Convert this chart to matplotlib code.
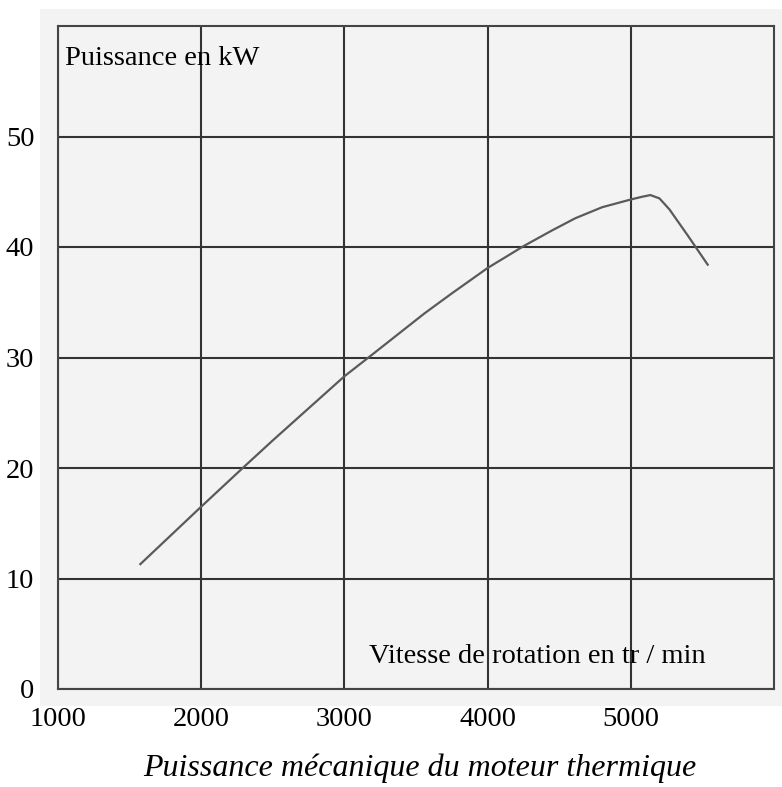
import matplotlib.pyplot as plt
from matplotlib.patches import Rectangle

# courbe de puissance
vitesse = [1575, 2000, 2290, 2500, 2750, 3000, 3188, 3560, 3750, 4000,
           4254, 4450, 4612, 4800, 5000, 5080, 5137, 5200, 5270, 5400, 5537]
puissance = [11.3, 16.5, 20.0, 22.5, 25.4, 28.3, 30.2, 34.0, 35.8, 38.1,
             40.1, 41.5, 42.6, 43.6, 44.3, 44.55, 44.7, 44.4, 43.4, 41.0, 38.4]

x_ticks = [1000, 2000, 3000, 4000, 5000]
y_ticks = [0, 10, 20, 30, 40, 50]

plt.rcParams['font.family'] = ['Liberation Serif', 'DejaVu Serif']

fig = plt.figure(figsize=(7.82, 7.87), dpi=100)
fig.patch.set_facecolor('white')

# fond gris clair derriere le graphique
fig.patches.append(Rectangle((40 / 782, 1 - 706 / 787), (782 - 40) / 782, (706 - 9) / 787,
                             transform=fig.transFigure, facecolor='#f3f3f3',
                             edgecolor='none', zorder=-10))

ax = fig.add_axes([58 / 782, 1 - 689 / 787, (774 - 58) / 782, (689 - 26) / 787])
ax.set_facecolor('#f3f3f3')
ax.set_zorder(1)

ax.plot(vitesse, puissance, color='#5a5a5a', lw=1.6, zorder=3)

ax.set_xlim(1000, 6000)
ax.set_ylim(0, 60)
ax.set_xticks(x_ticks)
ax.set_yticks(y_ticks)
ax.tick_params(length=0, labelsize=20.5, colors='black')
ax.tick_params(axis='x', pad=13)
ax.tick_params(axis='y', pad=17)
ax.grid(True, color='#333333', lw=1.5)
ax.set_axisbelow(True)
for s in ax.spines.values():
    s.set_color('#444444')
    s.set_linewidth(1.5)

ax.text(1049, 56.5, 'Puissance en kW', fontsize=20.5, va='baseline', ha='left', zorder=4)
ax.text(3174, 2.35, 'Vitesse de rotation en tr / min', fontsize=20.5, va='baseline',
        ha='left', zorder=4)

fig.text(420 / 782, 1 - 776 / 787, 'Puissance mécanique du moteur thermique',
         fontsize=23, style='italic', ha='center', va='baseline')

fig.savefig('out.png', dpi=100)
